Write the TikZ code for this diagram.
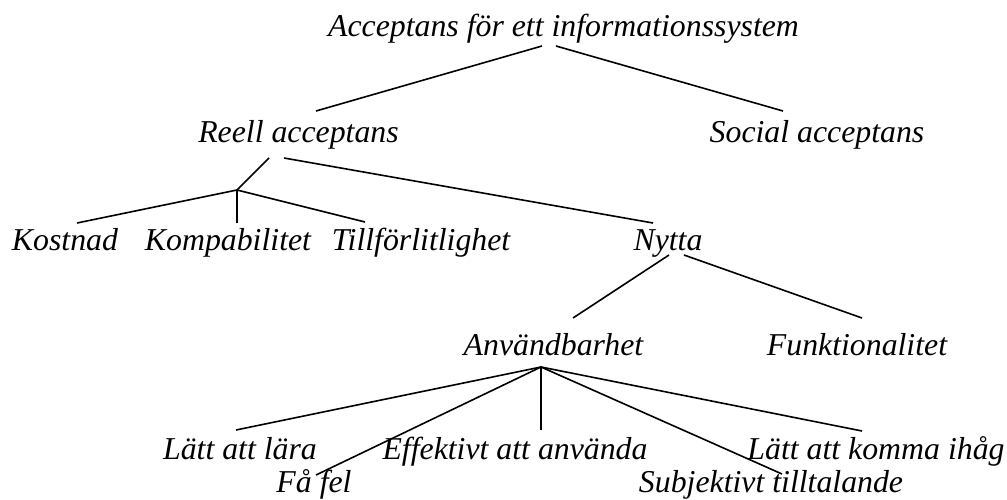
\documentclass[tikz,border=0pt]{standalone}
\usepackage{fontspec}
\setmainfont{Liberation Serif}
\begin{document}
\begin{tikzpicture}[x=1pt,y=-1pt,
  lbl/.style={anchor=base,inner sep=0pt,font=\fontsize{31.8}{36}\selectfont\itshape},
  edge/.style={line width=1.6pt,black},
  vedge/.style={line width=1.1pt,black}]
\useasboundingbox (0,0) rectangle (1007,500);
% texts
\node[lbl] (root) at (563.5,37) {Acceptans för ett informationssystem};
\node[lbl] (reell) at (298.5,143) {Reell acceptans};
\node[lbl] (social) at (817,143) {Social acceptans};
\node[lbl] (kost) at (65,250) {Kostnad};
\node[lbl] (komp) at (228,250) {Kompabilitet};
\node[lbl] (till) at (421,250) {Tillförlitlighet};
\node[lbl] (nytta) at (668,250) {Nytta};
\node[lbl] (anv) at (553.5,355) {Användbarhet};
\node[lbl] (funk) at (857,355) {Funktionalitet};
\node[lbl] (lara) at (240,459) {Lätt att lära};
\node[lbl] (eff) at (515,459) {Effektivt att använda};
\node[lbl] (komma) at (876,459) {Lätt att komma ihåg};
\node[lbl] (fafel) at (314,492) {Få fel};
\node[lbl] (subj) at (771,492) {Subjektivt tilltalande};
% connector points
\coordinate (r0a) at (542,46);
\coordinate (r0b) at (556,46);
\coordinate (rR) at (316,111);
\coordinate (rS) at (783,111);
\coordinate (e0a) at (269,158);
\coordinate (e0b) at (284,158);
\coordinate (j1) at (237,190);
\coordinate (eK) at (77,223);
\coordinate (eKp) at (237,223);
\coordinate (eT) at (365,222);
\coordinate (eN) at (653,223);
\coordinate (n0a) at (669,255);
\coordinate (n0b) at (684,255);
\coordinate (nA) at (573,318);
\coordinate (nF) at (862,318);
\coordinate (j2) at (541,367);
\coordinate (aL) at (236,430);
\coordinate (aF) at (316,475);
\coordinate (aE) at (541,430);
\coordinate (aS) at (782,474);
\coordinate (aK) at (862,431);
% connectors
\draw[edge] (r0a) -- (rR);
\draw[edge] (r0b) -- (rS);
\draw[edge] (e0a) -- (j1);
\draw[edge] (e0b) -- (eN);
\draw[edge] (j1) -- (eK);
\draw[vedge] (j1) -- (eKp);
\draw[edge] (j1) -- (eT);
\draw[edge] (n0a) -- (nA);
\draw[edge] (n0b) -- (nF);
\draw[edge] (j2) -- (aL);
\draw[edge] (j2) -- (aF);
\draw[vedge] (j2) -- (aE);
\draw[edge] (j2) -- (aS);
\draw[edge] (j2) -- (aK);
\end{tikzpicture}
\end{document}
